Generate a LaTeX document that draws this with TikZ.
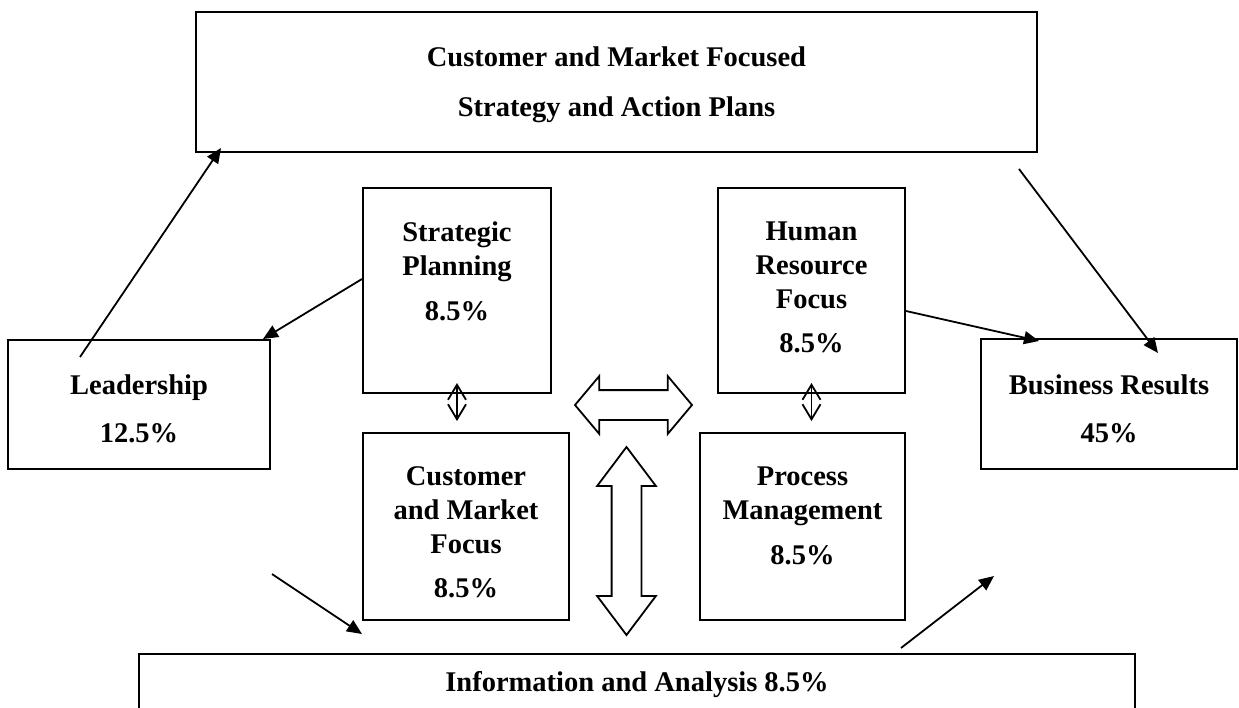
\documentclass[tikz,border=0pt]{standalone}
\usepackage{fontspec}
\setmainfont{Liberation Serif}
\usetikzlibrary{arrows.meta, calc, shapes.arrows, positioning}

\tikzset{
	blk/.style={draw, line width=1pt, inner sep=0pt},
	lbl/.style={inner sep=0pt, align=center, font=\fontsize{14.25}{17}\selectfont\bfseries},
	conn/.style={line width=0.9pt, -{Triangle[length=7.5pt,width=6.5pt]}},
	dbl/.style={line width=0.9pt, {Straight Barb[length=7.5pt,width=9pt]}-{Straight Barb[length=7.5pt,width=9pt]}},
	fatarrow/.style={draw, line width=0.9pt, double arrow, inner xsep=0pt, inner ysep=7pt}
}

\begin{document}
\begin{tikzpicture}[x=0.5pt,y=-0.5pt]

	\useasboundingbox (0,0) rectangle (1239,708);
	\clip (0,0) rectangle (1239,708);

	% boxes
	\node[blk, minimum width=420.5pt, minimum height=70pt] (topbox) at (616.5,82) {};
	\node[blk, minimum width=131pt, minimum height=64.5pt] (lead) at (139,404.5) {};
	\node[blk, minimum width=128pt, minimum height=65pt] (bus) at (1109,404) {};
	\node[blk, minimum width=94pt, minimum height=102.5pt] (strat) at (457,290.5) {};
	\node[blk, minimum width=93.5pt, minimum height=102.5pt] (hr) at (811.5,290.5) {};
	\node[blk, minimum width=103pt, minimum height=93.5pt] (cmf) at (466,526.5) {};
	\node[blk, minimum width=102.5pt, minimum height=93.5pt] (pm) at (802.5,526.5) {};
	\node[blk, minimum width=498pt, minimum height=53pt] (info) at (637,707) {};

	% texts
	\node[lbl, below=17.5pt of topbox.north] (topT) {Customer and Market Focused\\[8pt]Strategy and Action Plans};
	\node[lbl, below=17.5pt of lead.north] (leadT) {Leadership\\[7pt]12.5\%};
	\node[lbl, below=18pt of bus.north] (busT) {Business Results\\[7pt]45\%};
	\node[lbl, below=17pt of strat.north] (stratT) {Strategic\\Planning\\[5.5pt]8.5\%};
	\node[lbl, below=17pt of hr.north] (hrT) {Human\\Resource\\Focus\\[5pt]8.5\%};
	\node[lbl, below=17pt of cmf.north] (cmfT) {Customer\\and Market\\Focus\\[5pt]8.5\%};
	\node[lbl, below=17pt of pm.north] (pmT) {Process\\Management\\[5.5pt]8.5\%};
	\node[lbl, below=9pt of info.north] (infoT) {Information and Analysis 8.5\%};

	% block arrows
	\node[fatarrow, double arrow head extend=7pt, double arrow tip angle=100,
		minimum height=58.5pt] (harr) at (633.5,405) {};
	\node[fatarrow, rotate=90, double arrow head extend=7.25pt, double arrow tip angle=74,
		minimum height=94pt] (varr) at (626.5,541) {};

	% connectors
	\draw[conn] ([xshift=36.5pt,yshift=-9pt]lead.north west) -- ([xshift=13pt,yshift=2.5pt]topbox.south west);
	\draw[conn] ([yshift=-46pt]strat.north west) -- ([xshift=-4pt]lead.north east);
	\draw[conn] ([yshift=-62pt]hr.north east) -- ([xshift=29.5pt,yshift=-1.5pt]bus.north west);
	\draw[conn] ([xshift=-9.5pt,yshift=-8pt]topbox.south east) -- ([xshift=89pt,yshift=-7.5pt]bus.north west);
	\draw[conn] ([xshift=0.5pt,yshift=-52pt]lead.south east) -- ([yshift=-6.5pt]cmf.south west);
	\draw[conn] ([xshift=381.5pt,yshift=2.5pt]info.north west) -- ([xshift=7pt,yshift=-53pt]bus.south west);

	\draw[dbl] ([yshift=5.5pt]strat.south) -- ([xshift=-4.5pt,yshift=5.5pt]cmf.north);
	\draw[dbl] ([yshift=5.5pt]hr.south) -- ([xshift=4.5pt,yshift=5.5pt]pm.north);

\end{tikzpicture}
\end{document}
